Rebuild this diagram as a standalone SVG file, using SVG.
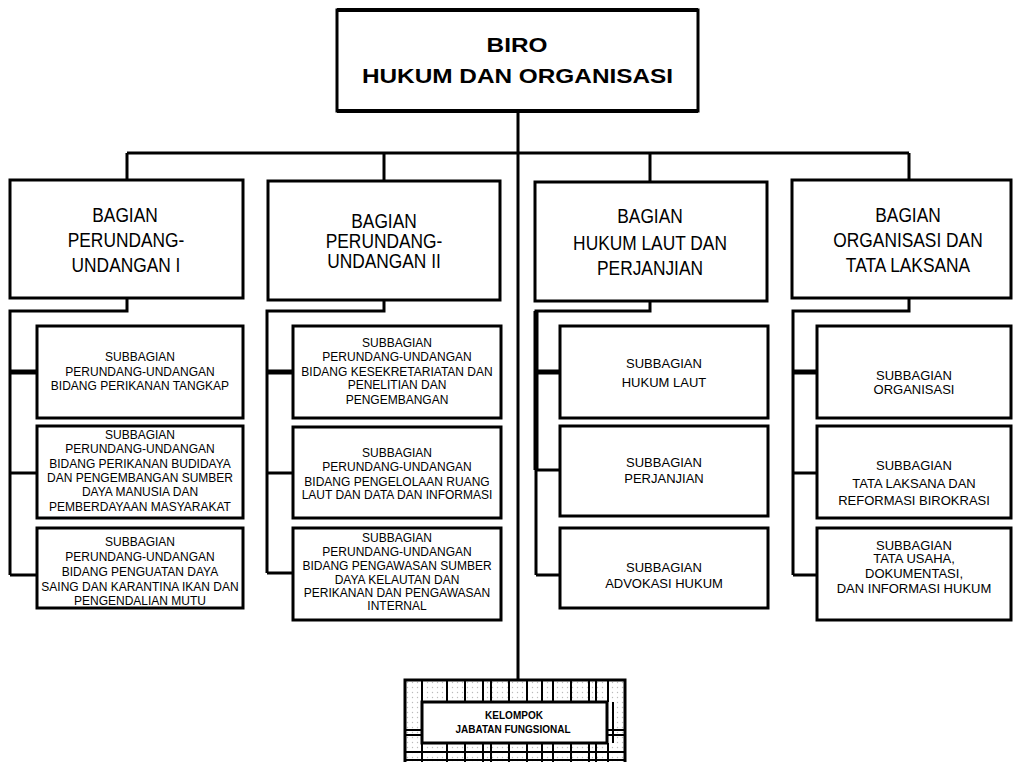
<svg xmlns="http://www.w3.org/2000/svg" width="1013" height="762" viewBox="0 0 1013 762">
<style>
.box{fill:#fff;stroke:#000;stroke-width:3}
.ln{stroke:#000;stroke-width:3;fill:none}
.thk{stroke-width:5}
.g{stroke:#000;stroke-width:2;fill:none}
.t{font-family:"Liberation Sans",Arial,sans-serif;text-anchor:middle;fill:#000}
.tt{font-size:21px;font-weight:bold}
.bg{font-size:19.5px}
.s{font-size:12px}
.m{font-size:13px}
.k{font-size:10px;font-weight:bold}
</style>
<defs>
<pattern id="dots" width="5" height="5" patternUnits="userSpaceOnUse">
<rect width="5" height="5" fill="#fff"/>
<circle cx="2.5" cy="2.5" r="0.7" fill="#bbb"/>
</pattern>
</defs>
<rect width="1013" height="762" fill="#fff"/>

<g id="connectors">
<path class="ln" d="M518 112V682"/>
<path class="ln" d="M127 153H909M127 153V181M384 153V181M650 153V183M909 153V181"/>
<!-- col 1 -->
<path class="ln" d="M127 298V311H10V575M10 473H37M10 575H37"/>
<path class="ln thk" d="M10 372H37"/>
<!-- col 2 -->
<path class="ln" d="M384 300V311H267V573M267 473H293M267 573H293"/>
<path class="ln thk" d="M267 372H293"/>
<!-- col 3 -->
<path class="ln" d="M650 301V311H536V575M536 470H560M536 575H560"/>
<path class="ln thk" d="M536 372H560M536 311V470"/>
<!-- col 4 -->
<path class="ln" d="M909 298V311H793V575M793 473H817M793 575H817"/>
<path class="ln thk" d="M793 372H817"/>
</g>

<g id="biro">
<rect class="box" x="337" y="10" width="361" height="101"/>
<path class="ln" d="M337 10H698M337 111H698" style="stroke-width:4"/>
<text class="t tt" transform="matrix(1.16 0 0 1 517 52)">BIRO</text>
<text class="t tt" transform="matrix(1.16 0 0 1 517.5 83)">HUKUM DAN ORGANISASI</text>
</g>

<g id="bagian1">
<rect class="box" x="10" y="180" width="233" height="118"/>
<text class="t bg" transform="matrix(0.89 0 0 1 125 222)">BAGIAN</text>
<text class="t bg" transform="matrix(0.89 0 0 1 126 247)">PERUNDANG-</text>
<text class="t bg" transform="matrix(0.89 0 0 1 126 272)">UNDANGAN I</text>
</g>
<g id="bagian2">
<rect class="box" x="268" y="181" width="232" height="119"/>
<text class="t bg" transform="matrix(0.89 0 0 1 384 228)">BAGIAN</text>
<text class="t bg" transform="matrix(0.89 0 0 1 384 248)">PERUNDANG-</text>
<text class="t bg" transform="matrix(0.89 0 0 1 384 268)">UNDANGAN II</text>
</g>
<g id="bagian3">
<rect class="box" x="535" y="182" width="232" height="119"/>
<text class="t bg" transform="matrix(0.89 0 0 1 650 223)">BAGIAN</text>
<text class="t bg" transform="matrix(0.89 0 0 1 650 250)">HUKUM LAUT DAN</text>
<text class="t bg" transform="matrix(0.89 0 0 1 650 275)">PERJANJIAN</text>
</g>
<g id="bagian4">
<rect class="box" x="792" y="180" width="219" height="118"/>
<text class="t bg" transform="matrix(0.89 0 0 1 908 222)">BAGIAN</text>
<text class="t bg" transform="matrix(0.89 0 0 1 908 247)">ORGANISASI DAN</text>
<text class="t bg" transform="matrix(0.89 0 0 1 908 272)">TATA LAKSANA</text>
</g>

<g id="sub1a">
<rect class="box" x="37" y="326" width="206" height="92"/>
<text class="t s"><tspan x="140" y="361">SUBBAGIAN</tspan><tspan x="140" y="376">PERUNDANG-UNDANGAN</tspan><tspan x="140" y="390">BIDANG PERIKANAN TANGKAP</tspan></text>
</g>
<g id="sub1b">
<rect class="box" x="37" y="426" width="206" height="92"/>
<text class="t s"><tspan x="140" y="439">SUBBAGIAN</tspan><tspan x="140" y="453">PERUNDANG-UNDANGAN</tspan><tspan x="140" y="468">BIDANG PERIKANAN BUDIDAYA</tspan><tspan x="140" y="482">DAN PENGEMBANGAN SUMBER</tspan><tspan x="140" y="496">DAYA MANUSIA DAN</tspan><tspan x="140" y="511">PEMBERDAYAAN MASYARAKAT</tspan></text>
</g>
<g id="sub1c">
<rect class="box" x="37" y="528" width="206" height="80"/>
<text class="t s"><tspan x="140" y="546">SUBBAGIAN</tspan><tspan x="140" y="561">PERUNDANG-UNDANGAN</tspan><tspan x="140" y="576">BIDANG PENGUATAN DAYA</tspan><tspan x="140" y="591">SAING DAN KARANTINA IKAN DAN</tspan><tspan x="140" y="605">PENGENDALIAN MUTU</tspan></text>
</g>

<g id="sub2a">
<rect class="box" x="293" y="326" width="208" height="92"/>
<text class="t s"><tspan x="397" y="347">SUBBAGIAN</tspan><tspan x="397" y="361">PERUNDANG-UNDANGAN</tspan><tspan x="397" y="376">BIDANG KESEKRETARIATAN DAN</tspan><tspan x="397" y="389">PENELITIAN DAN</tspan><tspan x="397" y="404">PENGEMBANGAN</tspan></text>
</g>
<g id="sub2b">
<rect class="box" x="293" y="427" width="208" height="91"/>
<text class="t s"><tspan x="397" y="457">SUBBAGIAN</tspan><tspan x="397" y="471">PERUNDANG-UNDANGAN</tspan><tspan x="397" y="486">BIDANG PENGELOLAAN RUANG</tspan><tspan x="397" y="499">LAUT DAN DATA DAN INFORMASI</tspan></text>
</g>
<g id="sub2c">
<rect class="box" x="293" y="528" width="208" height="92"/>
<text class="t s"><tspan x="397" y="542">SUBBAGIAN</tspan><tspan x="397" y="556">PERUNDANG-UNDANGAN</tspan><tspan x="397" y="570">BIDANG PENGAWASAN SUMBER</tspan><tspan x="397" y="584">DAYA KELAUTAN DAN</tspan><tspan x="397" y="597">PERIKANAN DAN PENGAWASAN</tspan><tspan x="397" y="610">INTERNAL</tspan></text>
</g>

<g id="sub3a">
<rect class="box" x="560" y="326" width="208" height="92"/>
<text class="t m"><tspan x="664" y="368">SUBBAGIAN</tspan><tspan x="664" y="387">HUKUM LAUT</tspan></text>
</g>
<g id="sub3b">
<rect class="box" x="560" y="426" width="208" height="90"/>
<text class="t m"><tspan x="664" y="467">SUBBAGIAN</tspan><tspan x="664" y="483">PERJANJIAN</tspan></text>
</g>
<g id="sub3c">
<rect class="box" x="560" y="528" width="208" height="80"/>
<text class="t m"><tspan x="664" y="572">SUBBAGIAN</tspan><tspan x="664" y="588">ADVOKASI HUKUM</tspan></text>
</g>

<g id="sub4a">
<rect class="box" x="817" y="326" width="194" height="92"/>
<text class="t m"><tspan x="914" y="380">SUBBAGIAN</tspan><tspan x="914" y="394">ORGANISASI</tspan></text>
</g>
<g id="sub4b">
<rect class="box" x="817" y="426" width="194" height="92"/>
<text class="t m"><tspan x="914" y="470">SUBBAGIAN</tspan><tspan x="914" y="488">TATA LAKSANA DAN</tspan><tspan x="914" y="505">REFORMASI BIROKRASI</tspan></text>
</g>
<g id="sub4c">
<rect class="box" x="817" y="528" width="194" height="92"/>
<text class="t m"><tspan x="914" y="550">SUBBAGIAN</tspan><tspan x="914" y="563">TATA USAHA,</tspan><tspan x="914" y="578">DOKUMENTASI,</tspan><tspan x="914" y="593">DAN INFORMASI HUKUM</tspan></text>
</g>

<g id="kelompok">
<rect x="405" y="680" width="220" height="95" fill="url(#dots)" stroke="#000" stroke-width="3"/>
<path class="g" d="M422 680V702M447 680V702M465 680V702M483 680V702M491 680V702M509 680V702M527 680V702M542 680V702M553 680V702M571 680V702M589 680V702M596 680V702M608 680V702"/>
<path class="g" d="M422 743V762M447 743V762M465 743V762M483 743V762M491 743V762M509 743V762M527 743V762M542 743V762M553 743V762M571 743V762M589 743V762M596 743V762M608 743V762"/>
<path class="g" d="M405 752H625M405 760H625M405 730H422M405 735H422M607 730H625M607 735H625M613 702V743"/>
<rect x="422" y="702" width="185" height="41" fill="#fff" stroke="#000" stroke-width="3"/>
<text class="t k"><tspan x="514" y="719">KELOMPOK</tspan><tspan x="513" y="733">JABATAN FUNGSIONAL</tspan></text>
</g>
</svg>
